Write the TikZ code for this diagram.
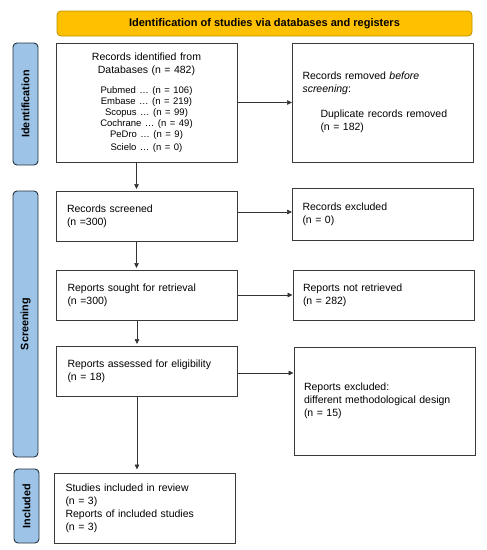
\documentclass[tikz,border=0pt]{standalone}
\usepackage{fontspec}
\setmainfont{Liberation Sans}
\usepackage{tikz}
\usetikzlibrary{arrows.meta}
\usetikzlibrary{positioning}
\definecolor{bannerfill}{HTML}{FFC000}
\definecolor{bannerline}{HTML}{BF9000}
\definecolor{barfill}{HTML}{9DC3E6}
\definecolor{barline}{HTML}{223040}
\definecolor{boxline}{HTML}{3A3A3A}
\newcommand{\dbfont}{\fontsize{9.5}{11}\selectfont}
\setlength{\parindent}{0pt}

\begin{document}
\begin{tikzpicture}[x=1pt,y=-1pt,
font=\fontsize{10.5}{13}\selectfont,
banner/.style={draw=bannerline,fill=bannerfill,rounded corners=4pt,line width=0.8pt,
minimum width=415pt,minimum height=25pt,font=\fontsize{11}{13}\selectfont\bfseries},
phase/.style={draw=barline,fill=barfill,rounded corners=4pt,line width=0.9pt,rotate=90,
minimum height=25pt,inner sep=0pt,font=\fontsize{10.8}{13}\selectfont\bfseries},
lbox/.style={draw=boxline,line width=1pt,align=left,text width=159pt,inner xsep=11pt,inner ysep=0pt},
rbox/.style={draw=boxline,line width=1pt,align=left,text width=161pt,inner xsep=10pt,inner ysep=0pt},
arr/.style={draw=black!80,line width=0.7pt,-{Triangle[length=5pt,width=4.5pt]}}]
\useasboundingbox (0,0) rectangle (487,550);
\node[banner] (head) at (264.5,23.5) {Identification of studies via databases and registers};
\node[phase,minimum width=122pt] (pid) at (25.5,104) {Identification};
\node[phase,minimum width=266pt] (psc) at (25.5,324) {Screening};
\node[phase,minimum width=74pt] (pin) at (26.5,506) {Included};
\node[lbox,align=center,minimum height=119pt] (rid) at (146.5,102.5)
	{Records identified from\\Databases (n = 482)\par\vspace{9pt}\dbfont
	Pubmed … (n = 106)\\Embase … (n = 219)\\Scopus … (n = 99)\\Cochrane … (n = 49)\\PeDro … (n = 9)\\Scielo … (n = 0)};
\node[rbox,minimum height=119pt] (rrm) at (383,102.5)
	{Records removed \textit{before}\\\textit{screening}:\\[12pt]
	\hspace*{18pt}Duplicate records removed\\\hspace*{18pt}(n = 182)};
\node[lbox,minimum height=50pt] (rsc) at (146.5,216) {Records screened\\(n =300)};
\node[rbox,minimum height=52pt] (rex) at (383,214) {Records excluded\\(n = 0)};
\node[lbox,minimum height=50pt] (rso) at (147,295) {Reports sought for retrieval\\(n =300)};
\node[rbox,minimum height=50pt] (rnr) at (383.5,295) {Reports not retrieved\\(n = 282)};
\node[lbox,minimum height=50pt] (ras) at (147,371) {Reports assessed for eligibility\\(n = 18)};
\node[rbox,minimum height=108pt] (rre) at (384.5,401) {Reports excluded:\\different methodological design\\(n = 15)};
\node[lbox,minimum height=70pt] (sin) at (145,508) {Studies included in review\\(n = 3)\\Reports of included studies\\(n = 3)};
\draw[arr] (rid.east) -- (rid.east -| rrm.west);
\draw[arr] ([yshift=4pt]rsc.east) -- ([yshift=4pt]rsc.east -| rex.west);
\draw[arr] (rso.east) -- (rso.east -| rnr.west);
\draw[arr] ([yshift=-2pt]ras.east) -- ([yshift=-2pt]ras.east -| rre.west);
\draw[arr] ([xshift=-10pt]rid.south) -- ([xshift=-10pt,yshift=1.5pt]rid.south |- rsc.north);
\draw[arr] ([xshift=-10pt]rsc.south) -- ([xshift=-10pt,yshift=1.5pt]rsc.south |- rso.north);
\draw[arr] ([xshift=-10pt]rso.south) -- ([xshift=-10pt,yshift=1.5pt]rso.south |- ras.north);
\draw[arr] ([xshift=-10pt]ras.south) -- ([xshift=-10pt,yshift=3pt]ras.south |- sin.north);
\end{tikzpicture}
\end{document}
